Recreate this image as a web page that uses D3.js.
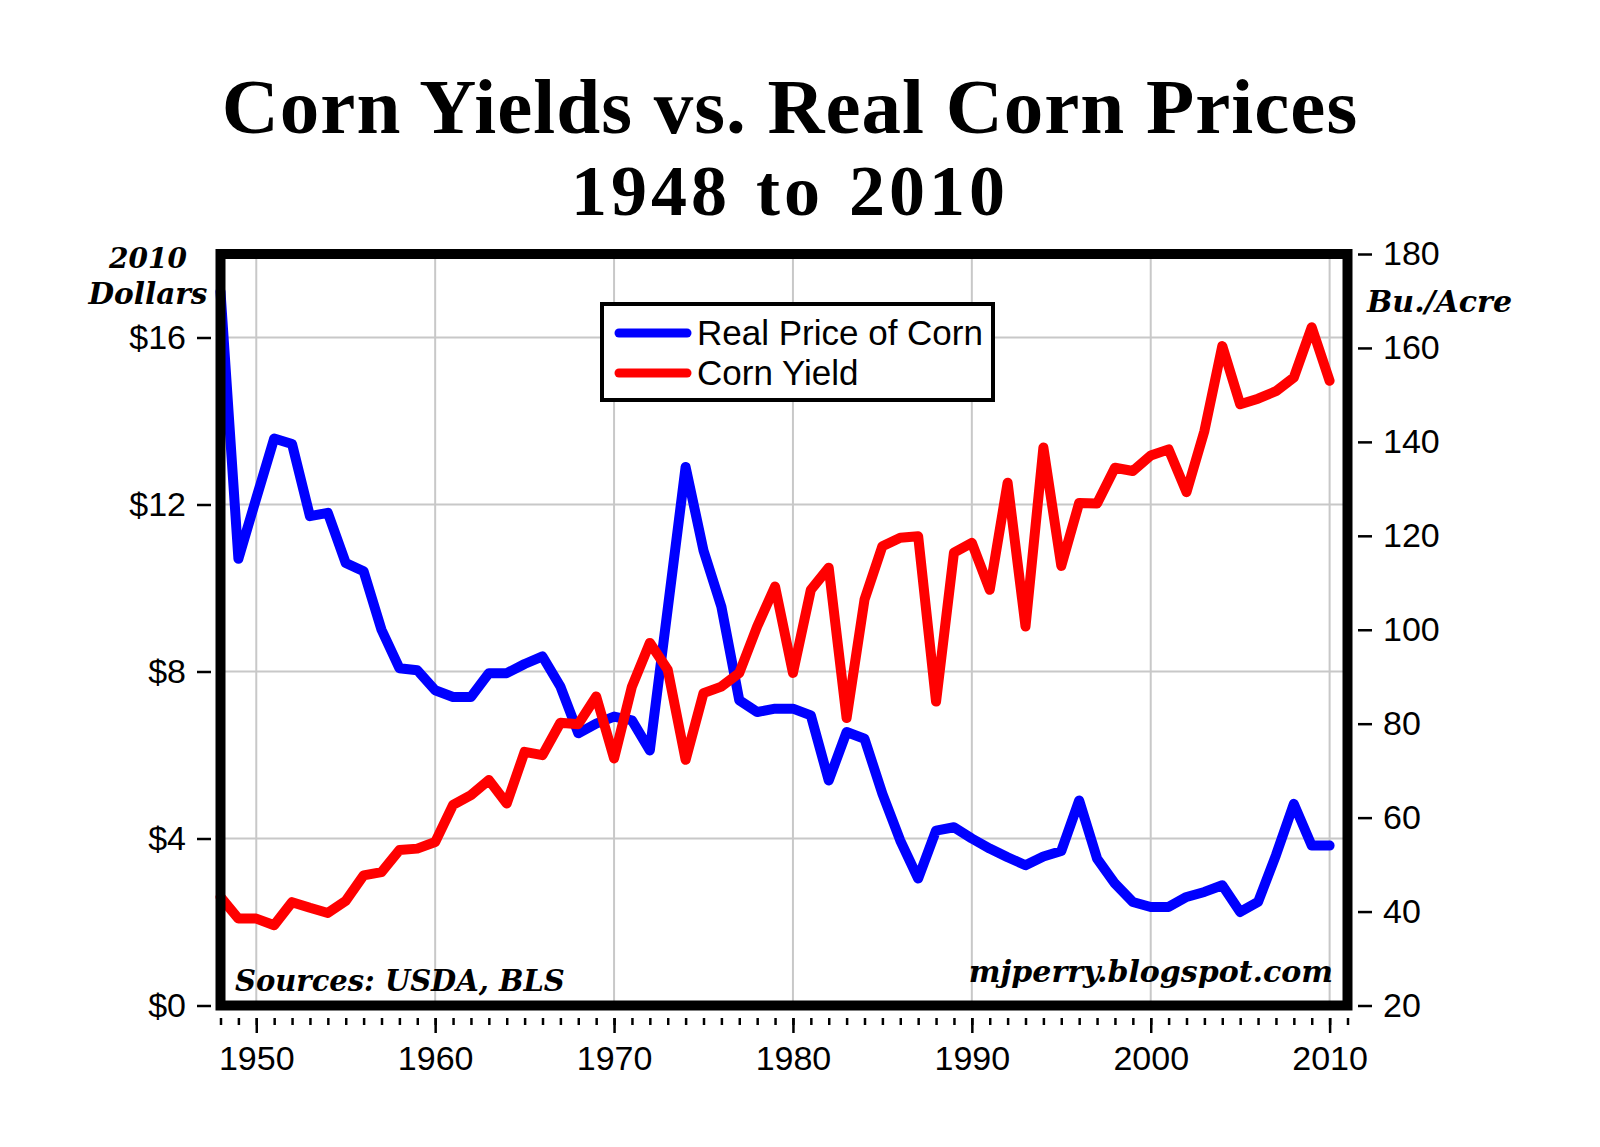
<!DOCTYPE html>
<html>
<head>
<meta charset="utf-8">
<script src="https://cdn.jsdelivr.net/npm/d3@7"></script>
<style>
  html, body { margin: 0; padding: 0; background: #fff; }
  svg { display: block; }
</style>
</head>
<body>
<svg id="chart" width="1600" height="1147"></svg>
<script>
// ---- Data ----
const years = d3.range(1948, 2011);
const realPrice = [17.1, 10.7, 12.15, 13.58, 13.45, 11.72, 11.8, 10.6, 10.4, 9.0,
  8.08, 8.03, 7.55, 7.39, 7.39, 7.96, 7.96, 8.18, 8.36, 7.64,
  6.52, 6.75, 6.92, 6.83, 6.11, 9.5, 12.9, 10.9, 9.55, 7.31,
  7.03, 7.11, 7.11, 6.95, 5.39, 6.55, 6.39, 5.07, 3.95, 3.04,
  4.19, 4.27, 4.0, 3.76, 3.55, 3.36, 3.57, 3.7, 4.91, 3.52,
  2.92, 2.48, 2.36, 2.36, 2.6, 2.72, 2.88, 2.24, 2.48, 3.6,
  4.83, 3.83, 3.83];
const cornYield = [43.1, 38.5, 38.5, 37.1, 42.0, 40.8, 39.7, 42.3, 47.7, 48.4,
  53.1, 53.4, 54.8, 62.7, 64.8, 68.0, 63.0, 74.0, 73.3, 80.2,
  79.9, 85.8, 72.6, 87.9, 97.2, 91.5, 72.3, 86.5, 87.9, 90.8,
  100.7, 109.2, 90.8, 108.5, 113.2, 81.2, 106.4, 117.8, 119.6, 119.9,
  84.7, 116.4, 118.5, 108.5, 131.3, 100.7, 138.8, 113.6, 127.0, 126.9,
  134.5, 133.8, 137.1, 138.4, 129.3, 142.3, 160.4, 148.0, 149.2, 150.8,
  153.7, 164.4, 153.0];
const leftTicks = [0, 4, 8, 12, 16];
const rightTicks = [20, 40, 60, 80, 100, 120, 140, 160, 180];
const xMajorTicks = [1950, 1960, 1970, 1980, 1990, 2000, 2010];
const xMinorTicks = d3.range(1948, 2012);
const seriesNames = ["Real Price of Corn", "Corn Yield"];
const seriesColors = ["#0000ff", "#ff0000"];

// ---- Layout ----
const svg = d3.select("#chart");
const pL = 220.5, pR = 1347.5, pT = 254, pB = 1005.5;

const x = d3.scaleLinear().domain([1948, 2011]).range([pL, pR]);
const yL = d3.scaleLinear().domain([0, 18]).range([pB, pT]);
const yR = d3.scaleLinear().domain([20, 180]).range([pB, pT]);

// Title
const title = svg.append("g")
  .attr("font-family", "'Liberation Serif', 'Times New Roman', serif")
  .attr("font-weight", "bold")
  .attr("text-anchor", "middle")
  .attr("fill", "#000");
title.append("text").attr("x", 790).attr("y", 133).attr("font-size", 79)
  .attr("letter-spacing", 1)
  .text("Corn Yields vs. Real Corn Prices");
title.append("text").attr("x", 790).attr("y", 215).attr("font-size", 72)
  .attr("letter-spacing", 4).attr("word-spacing", 3)
  .text("1948 to 2010");

// Grid
const grid = svg.append("g").attr("stroke", "#c8c8c8").attr("stroke-width", 2);
grid.selectAll("line.v").data(xMajorTicks).join("line")
  .attr("class", "v")
  .attr("x1", d => x(d)).attr("x2", d => x(d))
  .attr("y1", pT).attr("y2", pB);
grid.selectAll("line.h").data(leftTicks.filter(d => d > 0)).join("line")
  .attr("class", "h")
  .attr("x1", pL).attr("x2", pR)
  .attr("y1", d => yL(d)).attr("y2", d => yL(d));

// Lines
const lineL = d3.line().x((d, i) => x(years[i])).y(d => yL(d));
const lineR = d3.line().x((d, i) => x(years[i])).y(d => yR(d));

svg.append("path").datum(realPrice)
  .attr("d", lineL).attr("fill", "none")
  .attr("stroke", seriesColors[0]).attr("stroke-width", 10)
  .attr("stroke-linejoin", "round").attr("stroke-linecap", "round");
svg.append("path").datum(cornYield)
  .attr("d", lineR).attr("fill", "none")
  .attr("stroke", seriesColors[1]).attr("stroke-width", 10)
  .attr("stroke-linejoin", "round").attr("stroke-linecap", "round");

// Frame
svg.append("rect")
  .attr("x", pL).attr("y", pT)
  .attr("width", pR - pL).attr("height", pB - pT)
  .attr("fill", "none").attr("stroke", "#000").attr("stroke-width", 10);

// Axes
function styleAxis(g, fs) {
  g.select(".domain").remove();
  g.selectAll(".tick line").attr("stroke", "#000").attr("stroke-width", 2.5);
  g.selectAll(".tick text")
    .attr("font-family", "'Liberation Sans', Arial, sans-serif")
    .attr("font-size", fs).attr("fill", "#000");
}

svg.append("g").attr("transform", "translate(211,0)")
  .call(d3.axisLeft(yL).tickValues(leftTicks).tickFormat(d => "$" + d)
    .tickSize(14).tickPadding(11))
  .call(g => styleAxis(g, 34));

svg.append("g").attr("transform", "translate(1358,0)")
  .call(d3.axisRight(yR).tickValues(rightTicks).tickFormat(d => d)
    .tickSize(14).tickPadding(11))
  .call(g => styleAxis(g, 34));

svg.append("g").attr("transform", "translate(0,1018)")
  .call(d3.axisBottom(x).tickValues(xMinorTicks).tickFormat("").tickSize(7))
  .call(g => styleAxis(g, 34));

svg.append("g").attr("transform", "translate(0,1018)")
  .call(d3.axisBottom(x).tickValues(xMajorTicks).tickFormat(d => d)
    .tickSize(15).tickPadding(13))
  .call(g => styleAxis(g, 34));

// Axis titles & notes
const note = svg.append("g")
  .attr("font-family", "'DejaVu Serif', serif")
  .attr("font-weight", "bold").attr("font-style", "italic")
  .attr("fill", "#000");
note.append("text").attr("x", 148).attr("y", 268).attr("font-size", 28)
  .attr("text-anchor", "middle").text("2010");
note.append("text").attr("x", 148).attr("y", 304).attr("font-size", 29.5)
  .attr("text-anchor", "middle").text("Dollars");
note.append("text").attr("x", 1367).attr("y", 312).attr("font-size", 30)
  .text("Bu./Acre");
note.append("text").attr("x", 235).attr("y", 991).attr("font-size", 29)
  .text("Sources: USDA, BLS");
note.append("text").attr("x", 1333).attr("y", 982).attr("font-size", 30)
  .attr("text-anchor", "end").text("mjperry.blogspot.com");

// Legend
const lg = svg.append("g");
lg.append("rect").attr("x", 602).attr("y", 304).attr("width", 391).attr("height", 96)
  .attr("fill", "#fff").attr("stroke", "#000").attr("stroke-width", 4);
seriesNames.forEach((name, i) => {
  const cy = 333 + i * 40;
  lg.append("line").attr("x1", 619).attr("x2", 687).attr("y1", cy).attr("y2", cy)
    .attr("stroke", seriesColors[i]).attr("stroke-width", 9).attr("stroke-linecap", "round");
  lg.append("text").attr("x", 697).attr("y", cy + 12)
    .attr("font-family", "'Liberation Sans', Arial, sans-serif")
    .attr("font-size", 35).attr("fill", "#000").text(name);
});
</script>
</body>
</html>
